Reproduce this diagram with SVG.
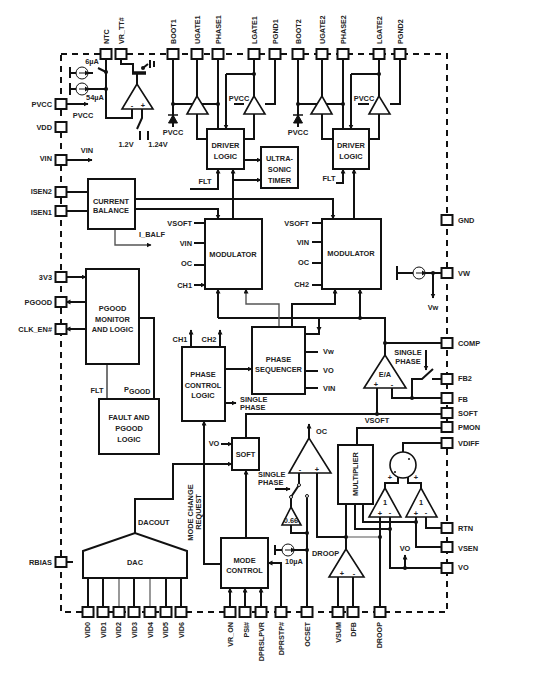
<svg xmlns="http://www.w3.org/2000/svg" width="543" height="680" viewBox="0 0 543 680">
<style>
text{font-family:"Liberation Sans",Arial,sans-serif;font-weight:bold;font-size:7.4px;fill:#222;dominant-baseline:central}
.c{text-anchor:middle}.e{text-anchor:end}
.v{font-size:7.2px;text-anchor:start}.u{font-size:7.2px;text-anchor:end}
.b{fill:#fff;stroke:#111;stroke-width:2}
.t{fill:#fff;stroke:#111;stroke-width:1.6;stroke-linejoin:miter}
.p{fill:#fff;stroke:#111;stroke-width:2}
.l{fill:none;stroke:#111;stroke-width:2}
.g{fill:none;stroke:#555;stroke-width:1.2}
.a{marker-end:url(#ar)}
.o{fill:#fff;stroke:#111;stroke-width:1}
</style>
<defs>
<marker id="ar" markerUnits="userSpaceOnUse" markerWidth="6" markerHeight="6" refX="4.5" refY="2.5" orient="auto"><path d="M0 0L5 2.5L0 5Z" fill="#111"/></marker>
<rect id="pin" x="-5.5" y="-5" width="11" height="10" class="p"/>
<circle id="dot" r="2" fill="#111"/>
</defs>
<rect width="543" height="680" fill="#fff"/>
<g id="border"><path d="M61 54H447V612H61Z" fill="none" stroke="#111" stroke-width="2" stroke-dasharray="6 5"/></g>
<g id="connectors">
<path class="l" d="M106 59V118H132V109"/>
<path class="l" d="M70 73H93M70 67V78M70 89H106M70 83V95"/>
<path class="l" d="M106 72L98 68"/>
<path class="l" d="M121 59V64H133V73M137 73V84"/>
<path d="M132 73H146" stroke="#111" stroke-width="3.500" fill="none"/>
<path class="l" d="M143 68L148 64M150 60V68M154 61V67"/>
<path class="l" d="M142 109V118L137 129M140 131V140M148 131V140"/>
<path class="l" d="M173 59V127"/>
<path class="l" d="M173 104H218"/>
<path class="l" d="M197 59V96M197 114V139H207M218 59V129"/>
<path class="l" d="M254 59V96M254 74H226M254 114V139H244M234 104H244M265 104H275V59"/>
<path class="l a" d="M226 74V129"/>
<path class="l" d="M298 59V127M298 104H343"/>
<path class="l" d="M322 59V96M322 114V139H333M343 59V129"/>
<path class="l" d="M379 59V96M379 74H351M379 114V139H369M358 104H369M390 104H400V59"/>
<path class="l a" d="M351 74V129"/>
<path class="l a" d="M244 160H261"/>
<path class="l a" d="M233 180H261"/>
<path class="l a" d="M233 219V169"/>
<path class="l a" d="M190 189H218V169"/>
<path class="l a" d="M354 219V169"/>
<path class="l a" d="M336 183H343V169"/>
<path class="l a" d="M135 199H333V219"/>
<path class="l a" d="M135 209H218V219"/>
<path class="l" d="M66 192H88M66 211H88"/>
<path class="g a" style="stroke-width:1.400" d="M115 229V245H151"/>
<path class="l" d="M194 223H205M194 243H205M194 265H205"/>
<path class="l a" d="M194 285H205"/>
<path class="l" d="M312 223H322M312 242H322M312 263H322M312 285H322"/>
<path class="l a" d="M218 318V289"/>
<path class="l" d="M218 318H385V355M385 343H442"/>
<path class="l a" d="M360 318V289"/>
<path class="g a" style="stroke-width:1.400" d="M279 327V304H246V289"/>
<path class="l a" d="M292 327V304H335V289"/>
<path class="l" d="M305 334H319V318"/>
<path d="M316.500 327L321.500 327L319 332Z" fill="#111"/>
<path class="l" d="M305 352H318M305 371H318M305 388H318"/>
<path class="l a" d="M225 369H252"/>
<path class="l a" d="M225 403H236"/>
<path class="l a" d="M191 347V330"/>
<path class="l a" d="M220 347V330"/>
<path class="l a" d="M221 564H204V421"/>
<path class="l a" d="M135 533V499H173V464H232"/>
<path class="l a" d="M221 444H232"/>
<path class="l" d="M246 438V414H442"/>
<path class="l" d="M377 388V414"/>
<path class="l" d="M392 388V398H442M412 398V379H422L433 369M432 379H442"/>
<path class="l a" d="M426 350V370"/>
<path class="l a" d="M246 538V470"/>
<path class="l a" d="M275 489H290"/>
<path class="l" d="M299 473V485M299 485L291 497M291 497V507"/>
<path class="l" d="M307 498V607M291 525V533H307"/>
<path class="l" d="M275 550H307M275 545V555"/>
<path class="l a" d="M309 438V424"/>
<path class="l" d="M317 473V537H346"/>
<path class="g" d="M346 537H380"/>
<path class="l" d="M346 504V549"/>
<path class="l" d="M380 607V517"/>
<path class="l" d="M338 577V607M353 577V607"/>
<path class="l" d="M357 445V428H442"/>
<path class="l" d="M355 504V529H390M363 504V522H416"/>
<path class="l" d="M390 517V568H442"/>
<path class="l a" d="M405 568V555"/>
<path class="l" d="M416 517V547H442M426 517V528H442"/>
<path class="l" d="M385 488V483H398V476M421 488V483H408V476M403 452V443H442"/>
<path class="l" d="M397 273H442M397 266V280"/>
<path class="l a" d="M433 273V298"/>
<path class="l a" d="M66 104H88"/>
<path class="l a" d="M66 160H92"/>
<path class="l a" d="M66 277H86"/>
<path class="l a" d="M86 302H66"/>
<path class="l a" d="M86 329H66"/>
<path class="l" d="M66 562H73"/>
<path class="l" d="M139 318H154V399"/>
<path d="M107 364V399" fill="none" stroke="#666" stroke-width="1.800"/>
<path class="l" d="M88 578V607M103 578V607M134 578V607M166 578V607M181 578V607"/>
<path class="g" d="M119 578V607M150 578V607"/>
<path class="l a" d="M230 607V588"/>
<path class="l a" d="M245 607V588"/>
<path class="l a" d="M261 607V588"/>
<path class="l a" d="M281 607V563H268"/>
<path d="M173 115L168.500 123H177.500Z" fill="#111" stroke="#111"/><path d="M168 115H178" stroke="#111" stroke-width="1.500"/>
<path d="M298 115L293.500 123H302.500Z" fill="#111" stroke="#111"/><path d="M293 115H303" stroke="#111" stroke-width="1.500"/>
<use href="#dot" x="106" y="72"/><use href="#dot" x="106" y="89"/><use href="#dot" x="143" y="68"/>
<use href="#dot" x="173" y="104"/><use href="#dot" x="218" y="104"/><use href="#dot" x="254" y="74"/>
<use href="#dot" x="298" y="104"/><use href="#dot" x="343" y="104"/><use href="#dot" x="379" y="74"/>
<use href="#dot" x="360" y="318"/><use href="#dot" x="385" y="343"/><use href="#dot" x="377" y="414"/><use href="#dot" x="412" y="398"/>
<use href="#dot" x="307" y="533"/><use href="#dot" x="307" y="550"/><use href="#dot" x="346" y="537"/><use href="#dot" x="380" y="537"/>
<use href="#dot" x="390" y="529"/><use href="#dot" x="416" y="522"/><use href="#dot" x="405" y="568"/><use href="#dot" x="433" y="273"/>
</g>
<g id="pins">
<g id="pin-ntc"><use href="#pin" x="106" y="54"/><text class="v" transform="translate(106 44) rotate(-90)">NTC</text></g>
<g id="pin-vrtt"><use href="#pin" x="121" y="54"/><text class="v" transform="translate(121 44) rotate(-90)">VR_TT#</text></g>
<g id="pin-boot1"><use href="#pin" x="173" y="54"/><text class="v" transform="translate(173 44) rotate(-90)">BOOT1</text></g>
<g id="pin-ugate1"><use href="#pin" x="197" y="54"/><text class="v" transform="translate(197 44) rotate(-90)">UGATE1</text></g>
<g id="pin-phase1"><use href="#pin" x="218" y="54"/><text class="v" transform="translate(218 44) rotate(-90)">PHASE1</text></g>
<g id="pin-lgate1"><use href="#pin" x="254" y="54"/><text class="v" transform="translate(254 44) rotate(-90)">LGATE1</text></g>
<g id="pin-pgnd1"><use href="#pin" x="275" y="54"/><text class="v" transform="translate(275 44) rotate(-90)">PGND1</text></g>
<g id="pin-boot2"><use href="#pin" x="298" y="54"/><text class="v" transform="translate(298 44) rotate(-90)">BOOT2</text></g>
<g id="pin-ugate2"><use href="#pin" x="322" y="54"/><text class="v" transform="translate(322 44) rotate(-90)">UGATE2</text></g>
<g id="pin-phase2"><use href="#pin" x="343" y="54"/><text class="v" transform="translate(343 44) rotate(-90)">PHASE2</text></g>
<g id="pin-lgate2"><use href="#pin" x="379" y="54"/><text class="v" transform="translate(379 44) rotate(-90)">LGATE2</text></g>
<g id="pin-pgnd2"><use href="#pin" x="400" y="54"/><text class="v" transform="translate(400 44) rotate(-90)">PGND2</text></g>
<g id="pin-pvcc"><use href="#pin" x="61" y="104"/><text class="e" x="52" y="104">PVCC</text></g>
<g id="pin-vdd"><use href="#pin" x="61" y="127"/><text class="e" x="52" y="127">VDD</text></g>
<g id="pin-vin"><use href="#pin" x="61" y="160"/><text class="e" x="52" y="158">VIN</text></g>
<g id="pin-isen2"><use href="#pin" x="61" y="192"/><text class="e" x="52" y="191">ISEN2</text></g>
<g id="pin-isen1"><use href="#pin" x="61" y="211"/><text class="e" x="52" y="212">ISEN1</text></g>
<g id="pin-3v3"><use href="#pin" x="61" y="277"/><text class="e" x="52" y="277">3V3</text></g>
<g id="pin-pgood"><use href="#pin" x="61" y="302"/><text class="e" x="52" y="302">PGOOD</text></g>
<g id="pin-clken"><use href="#pin" x="61" y="329"/><text class="e" x="52" y="329">CLK_EN#</text></g>
<g id="pin-rbias"><use href="#pin" x="61" y="562"/><text class="e" x="52" y="562">RBIAS</text></g>
<g id="pin-gnd"><use href="#pin" x="447" y="220"/><text x="458" y="220">GND</text></g>
<g id="pin-vw"><use href="#pin" x="447" y="273"/><text x="458" y="273">VW</text></g>
<g id="pin-comp"><use href="#pin" x="447" y="343"/><text x="458" y="343">COMP</text></g>
<g id="pin-fb2"><use href="#pin" x="447" y="379"/><text x="458" y="378">FB2</text></g>
<g id="pin-fb"><use href="#pin" x="447" y="398"/><text x="458" y="399">FB</text></g>
<g id="pin-soft"><use href="#pin" x="447" y="413"/><text x="458" y="413">SOFT</text></g>
<g id="pin-pmon"><use href="#pin" x="447" y="427"/><text x="458" y="427">PMON</text></g>
<g id="pin-vdiff"><use href="#pin" x="447" y="443"/><text x="458" y="443">VDIFF</text></g>
<g id="pin-rtn"><use href="#pin" x="447" y="528"/><text x="458" y="528">RTN</text></g>
<g id="pin-vsen"><use href="#pin" x="447" y="547"/><text x="458" y="548">VSEN</text></g>
<g id="pin-vo"><use href="#pin" x="447" y="568"/><text x="458" y="567">VO</text></g>
<g id="pin-vid0"><use href="#pin" x="88" y="612"/><text class="u" transform="translate(87 622) rotate(-90)">VID0</text></g>
<g id="pin-vid1"><use href="#pin" x="103" y="612"/><text class="u" transform="translate(103 622) rotate(-90)">VID1</text></g>
<g id="pin-vid2"><use href="#pin" x="119" y="612"/><text class="u" transform="translate(118 622) rotate(-90)">VID2</text></g>
<g id="pin-vid3"><use href="#pin" x="134" y="612"/><text class="u" transform="translate(134 622) rotate(-90)">VID3</text></g>
<g id="pin-vid4"><use href="#pin" x="150" y="612"/><text class="u" transform="translate(150 622) rotate(-90)">VID4</text></g>
<g id="pin-vid5"><use href="#pin" x="166" y="612"/><text class="u" transform="translate(165 622) rotate(-90)">VID5</text></g>
<g id="pin-vid6"><use href="#pin" x="181" y="612"/><text class="u" transform="translate(181 622) rotate(-90)">VID6</text></g>
<g id="pin-vron"><use href="#pin" x="230" y="612"/><text class="u" transform="translate(230 622) rotate(-90)">VR_ON</text></g>
<g id="pin-psi"><use href="#pin" x="245" y="612"/><text class="u" transform="translate(246 622) rotate(-90)">PSI#</text></g>
<g id="pin-dprslpvr"><use href="#pin" x="261" y="612"/><text class="u" transform="translate(261 622) rotate(-90)">DPRSLPVR</text></g>
<g id="pin-dprstp"><use href="#pin" x="281" y="612"/><text class="u" transform="translate(281 622) rotate(-90)">DPRSTP#</text></g>
<g id="pin-ocset"><use href="#pin" x="307" y="612"/><text class="u" transform="translate(307 622) rotate(-90)">OCSET</text></g>
<g id="pin-vsum"><use href="#pin" x="338" y="612"/><text class="u" transform="translate(338 622) rotate(-90)">VSUM</text></g>
<g id="pin-dfb"><use href="#pin" x="353" y="612"/><text class="u" transform="translate(353 622) rotate(-90)">DFB</text></g>
<g id="pin-droop"><use href="#pin" x="380" y="612"/><text class="u" transform="translate(379 622) rotate(-90)">DROOP</text></g>
</g>
<g id="current-sources">
<circle class="o" cx="82" cy="73" r="6"/><path d="M79 73H87" class="l" style="stroke-width:1"/><path d="M85 70.500L89 73L85 75.500Z" fill="#111"/>
<circle class="o" cx="82" cy="89" r="6"/><path d="M79 89H87" class="l" style="stroke-width:1"/><path d="M85 86.500L89 89L85 91.500Z" fill="#111"/>
<circle class="o" cx="288" cy="550" r="6"/><path d="M285 550H293" class="l" style="stroke-width:1"/><path d="M291 547.500L295 550L291 552.500Z" fill="#111"/>
<circle class="o" cx="419" cy="273" r="6"/><path d="M416 273H424" class="l" style="stroke-width:1"/><path d="M422 270.500L426 273L422 275.500Z" fill="#111"/>
<text x="92" y="61" class="c">6µA</text><text x="95" y="97" class="c">54µA</text><text x="294" y="561" class="c">10µA</text>
</g>
<g id="amps">
<path class="t" d="M137 84L122 109H153Z"/><text x="132" y="105" class="c">-</text><text x="143" y="105" class="c">+</text>
<path class="t" d="M197 96L187 114H208Z"/><path class="t" d="M254 96L244 114H265Z"/>
<path class="t" d="M322 96L311 114H332Z"/><path class="t" d="M379 96L369 114H390Z"/>
<g id="ea"><path class="t" d="M385 355L364 388H406Z"/><text x="385" y="374" class="c">E/A</text><text x="376" y="384" class="c">+</text><text x="392" y="384" class="c">-</text></g>
<g id="oc-comp"><path class="t" d="M309 438L289 473H331Z"/><text x="300" y="469" class="c">-</text><text x="317" y="469" class="c">+</text></g>
<g id="droop-amp"><path class="t" d="M346 549L329 577H364Z"/><text x="342" y="573" class="c">+</text><text x="354" y="573" class="c">-</text></g>
<g id="gain"><path class="t" d="M291 507L282 525H301Z"/><text x="291" y="520" class="c">0.66</text></g>
<g id="diff1"><path class="t" d="M385 488L369 517H401Z"/><text x="385" y="502" class="c">1</text><text x="380" y="513" class="c">+</text><text x="390" y="512" class="c">-</text></g>
<g id="diff2"><path class="t" d="M421 488L406 517H437Z"/><text x="421" y="502" class="c">1</text><text x="416" y="513" class="c">+</text><text x="426" y="512" class="c">-</text></g>
<g id="sum"><circle class="o" style="stroke-width:1.600" cx="403" cy="465" r="13"/><circle cx="409" cy="459" r="1" fill="#111"/><circle cx="395" cy="472" r="1" fill="#111"/><text x="390" y="477" class="c">+</text><text x="416" y="477" class="c">+</text></g>
<circle class="o" cx="299" cy="485" r="1.500"/><circle class="o" cx="291" cy="497" r="1.500"/><circle class="o" cx="307" cy="496" r="1.500"/>
</g>
<g id="driver1"><rect class="b" x="207" y="129" width="37" height="40"/><text class="c" x="225.500" y="145">DRIVER</text><text class="c" x="225.500" y="156">LOGIC</text></g>
<g id="driver2"><rect class="b" x="333" y="129" width="36" height="40"/><text class="c" x="351" y="145">DRIVER</text><text class="c" x="351" y="156">LOGIC</text></g>
<g id="timer"><rect class="b" x="261" y="147" width="37" height="41"/><text class="c" x="279.500" y="158">ULTRA-</text><text class="c" x="279.500" y="169">SONIC</text><text class="c" x="279.500" y="180">TIMER</text></g>
<g id="balance"><rect class="b" x="88" y="179" width="47" height="50"/><text class="c" x="111" y="201">CURRENT</text><text class="c" x="111" y="210">BALANCE</text></g>
<g id="mod1"><rect class="b" x="205" y="219" width="57" height="70"/><text class="c" x="233" y="254">MODULATOR</text></g>
<g id="mod2"><rect class="b" x="322" y="219" width="59" height="70"/><text class="c" x="351" y="253">MODULATOR</text></g>
<g id="pgood"><rect class="b" x="86" y="269" width="53" height="95"/><text class="c" x="112.500" y="308">PGOOD</text><text class="c" x="112.500" y="319">MONITOR</text><text class="c" x="112.500" y="329">AND LOGIC</text></g>
<g id="fault"><rect class="b" x="99" y="399" width="60" height="55"/><text class="c" x="129" y="417">FAULT AND</text><text class="c" x="129" y="428">PGOOD</text><text class="c" x="129" y="439">LOGIC</text></g>
<g id="phasectl"><rect class="b" x="182" y="347" width="43" height="74"/><text class="c" x="203" y="374">PHASE</text><text class="c" x="203" y="385">CONTROL</text><text class="c" x="203" y="395">LOGIC</text></g>
<g id="sequencer"><rect class="b" x="252" y="327" width="53" height="67"/><text class="c" x="278.500" y="359">PHASE</text><text class="c" x="278.500" y="369">SEQUENCER</text></g>
<g id="soft"><rect class="b" x="232" y="438" width="27" height="32"/><text class="c" x="245.500" y="454">SOFT</text></g>
<g id="mode"><rect class="b" x="221" y="538" width="47" height="50"/><text class="c" x="244.500" y="560">MODE</text><text class="c" x="244.500" y="570">CONTROL</text></g>
<g id="dac"><path class="b" d="M83 551L135 533L187 551V578H83Z"/><text class="c" x="135" y="562">DAC</text></g>
<g id="multiplier"><rect class="b" x="338" y="445" width="35" height="59"/><text class="c" transform="translate(355.500 474) rotate(-90)">MULTIPLIER</text></g>
<g id="labels">
<text class="c" x="126" y="144">1.2V</text><text class="c" x="158" y="144">1.24V</text>
<text class="c" x="83" y="115">PVCC</text><text class="c" x="87" y="150">VIN</text>
<text class="c" x="173" y="132">PVCC</text><text class="c" x="298" y="132">PVCC</text>
<text class="c" x="239" y="98">PVCC</text><text class="c" x="364" y="98">PVCC</text>
<text class="c" x="205" y="181">FLT</text><text class="c" x="329" y="178">FLT</text>
<text class="c" x="152" y="234">I_BALF</text>
<text class="e" x="192" y="223">VSOFT</text><text class="e" x="192" y="243">VIN</text><text class="e" x="192" y="263">OC</text><text class="e" x="192" y="285">CH1</text>
<text class="e" x="309" y="223">VSOFT</text><text class="e" x="309" y="242">VIN</text><text class="e" x="309" y="262">OC</text><text class="e" x="309" y="284">CH2</text>
<text x="323" y="351">Vw</text><text x="323" y="370">VO</text><text x="323" y="388">VIN</text>
<text class="c" x="433" y="307">Vw</text>
<text class="c" x="180" y="339">CH1</text><text class="c" x="209" y="339">CH2</text>
<text x="240" y="399">SINGLE</text><text x="240" y="407">PHASE</text>
<text class="c" x="408" y="352">SINGLE</text><text class="c" x="408" y="361">PHASE</text>
<text class="c" x="377" y="420">VSOFT</text>
<text class="c" x="97" y="390">FLT</text>
<text x="124" y="389">P<tspan dy="2" font-size="7">GOOD</tspan></text>
<text class="c" x="214" y="443">VO</text>
<text x="138" y="522">DACOUT</text>
<text x="258" y="474">SINGLE</text><text x="258" y="482.500">PHASE</text>
<text x="316" y="431">OC</text>
<text x="312" y="553">DROOP</text>
<text class="c" x="405" y="548">VO</text>
<text class="c" transform="translate(190 512.500) rotate(-90)">MODE CHANGE</text>
<text class="c" transform="translate(198 512) rotate(-90)">REQUEST</text>
</g>
</svg>
